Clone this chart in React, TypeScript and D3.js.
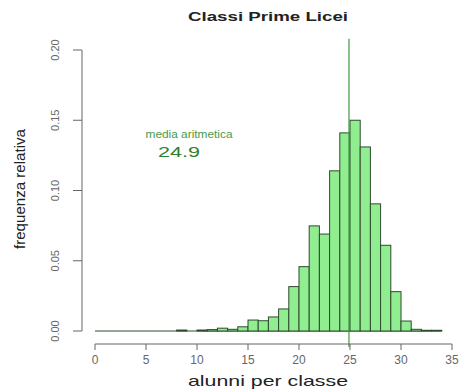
import React from 'react';
import * as d3 from 'd3';

// bin start (alunni per classe), each bin is 1 wide
const binStarts = d3.range(0, 34);
const freq = [
  0, 0, 0, 0, 0, 0, 0, 0,
  0.0007, 0, 0.0007, 0.001, 0.002, 0.0012, 0.003,
  0.0078, 0.0073, 0.010, 0.0157, 0.0316, 0.0458, 0.0748, 0.069,
  0.114, 0.141, 0.150, 0.131, 0.0905, 0.061, 0.028, 0.0071,
  0.0012, 0.0005, 0.0005,
];
const xTicks = [0, 5, 10, 15, 20, 25, 30, 35];
const yTicks = [0, 0.05, 0.1, 0.15, 0.2];
const media = 24.9;

const W = 463;
const H = 391;
const font = "'Liberation Sans', Arial, sans-serif";

const App: React.FC = () => {
  const x = d3.scaleLinear().domain([0, 35]).range([95, 452]);
  const y = d3.scaleLinear().domain([0, 0.2]).range([331, 50]);
  const yTop = y(0.208);
  const yBottom = 344;

  return (
    <svg width={W} height={H} style={{ position: 'absolute', left: 0, top: 0, background: '#fff' }}>
      {/* titolo */}
      <text x={268} y={21} textAnchor="middle" fontFamily={font} fontWeight="bold" fontSize={13}
        textLength={160} lengthAdjust="spacingAndGlyphs" fill="#222">
        Classi Prime Licei
      </text>

      {/* linea di base per le classi a frequenza zero */}
      <line x1={x(0)} x2={x(binStarts.length)} y1={y(0)} y2={y(0)} stroke="#2e4a2e" strokeWidth={1} />

      {/* barre */}
      <g>
        {binStarts.map((b, i) => (
          freq[i] > 0 ? (
            <rect
              key={b}
              x={x(b)}
              y={y(freq[i])}
              width={x(b + 1) - x(b)}
              height={y(0) - y(freq[i])}
              fill="#90ee90"
              stroke="#2e4a2e"
              strokeWidth={1}
            />
          ) : null
        ))}
      </g>

      {/* linea media */}
      <line x1={x(media)} x2={x(media)} y1={yTop} y2={yBottom + 3} stroke="#3f9a3f" strokeWidth={1.2} />
      <text x={189} y={138} textAnchor="middle" fontFamily={font} fontSize={10} fill="#4a9a4a"
        textLength={87} lengthAdjust="spacingAndGlyphs">
        media aritmetica
      </text>
      <text x={179} y={157} textAnchor="middle" fontFamily={font} fontSize={15} fill="#2f7f2f"
        textLength={42} lengthAdjust="spacingAndGlyphs">
        24.9
      </text>

      {/* asse x */}
      <g stroke="#666" fill="none">
        <line x1={x(0)} x2={x(35)} y1={yBottom} y2={yBottom} />
        {xTicks.map((t) => (
          <line key={t} x1={x(t)} x2={x(t)} y1={yBottom} y2={yBottom + 6} />
        ))}
      </g>
      {xTicks.map((t) => (
        <text key={t} x={x(t)} y={364} textAnchor="middle" fontFamily={font} fontSize={12} fill="#666">
          {t}
        </text>
      ))}
      <text x={268} y={386} textAnchor="middle" fontFamily={font} fontSize={15} fill="#222"
        textLength={160} lengthAdjust="spacingAndGlyphs">
        alunni per classe
      </text>

      {/* asse y */}
      <g stroke="#666" fill="none">
        <line x1={82} x2={82} y1={y(0)} y2={y(0.2)} />
        {yTicks.map((t) => (
          <line key={t} x1={73} x2={82} y1={y(t)} y2={y(t)} />
        ))}
      </g>
      {yTicks.map((t) => (
        <text
          key={t}
          transform={`translate(59, ${y(t)}) rotate(-90)`}
          textAnchor="middle"
          fontFamily={font}
          fontSize={11}
          fill="#666"
        >
          {d3.format('.2f')(t)}
        </text>
      ))}
      <text
        transform={`translate(25, 189) rotate(-90)`}
        textAnchor="middle"
        fontFamily={font}
        fontSize={15}
        fill="#222"
        textLength={120}
        lengthAdjust="spacingAndGlyphs"
      >
        frequenza relativa
      </text>
    </svg>
  );
};

export default App;
